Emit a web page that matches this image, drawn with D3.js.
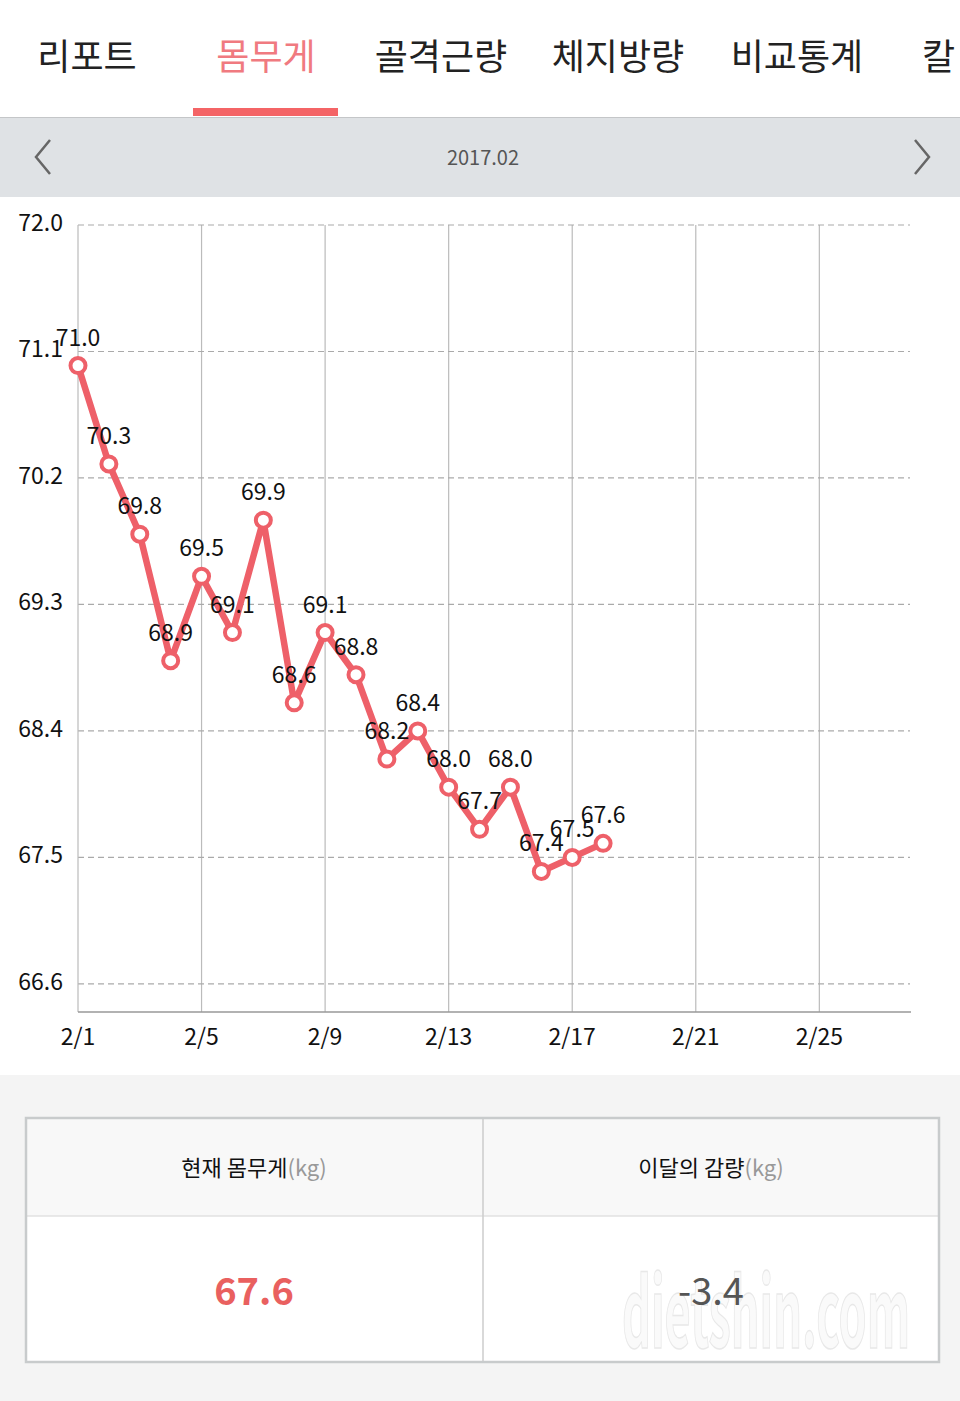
<!DOCTYPE html>
<html>
<head>
<meta charset="utf-8">
<script src="https://cdnjs.cloudflare.com/ajax/libs/d3/7.8.5/d3.min.js"></script>
<style>
  body { margin: 0; background: #fff; }
  svg { display: block; }
  text { font-family: "Noto Sans CJK KR", "Noto Sans", sans-serif; }
</style>
</head>
<body>
<svg id="page" width="960" height="1401"></svg>
<script>

var tabs = ['리포트', '몸무게', '골격근량', '체지방량', '비교통계', '칼로리'],
    activeTab = 1,
    month = '2017.02';

var days = [1, 2, 3, 4, 5, 6, 7, 8, 9, 10, 11, 12, 13, 14, 15, 16, 17, 18],
    weights = [71.0, 70.3, 69.8, 68.9, 69.5, 69.1, 69.9, 68.6, 69.1, 68.8,
               68.2, 68.4, 68.0, 67.7, 68.0, 67.4, 67.5, 67.6];

var yTicks = [66.6, 67.5, 68.4, 69.3, 70.2, 71.1, 72.0],
    xTicks = [1, 5, 9, 13, 17, 21, 25];

var summary = [
  { label: '현재 몸무게', value: '67.6' },
  { label: '이달의 감량', value: '-3.4' }
];

var pink = '#ee6069';
var svg = d3.select('#page');

// tab bar
var tabX = [87, 266, 441, 618, 797, 976];
svg.append('rect').attr('width', 960).attr('height', 117).attr('fill', '#fff');
svg.selectAll('.tab').data(tabs).enter().append('text')
  .attr('class', 'tab')
  .attr('x', function(d, i){ return tabX[i]; })
  .attr('y', 70)
  .attr('text-anchor', i => 'middle')
  .attr('font-size', 36)
  .attr('fill', function(d, i){ return i === activeTab ? '#f07a80' : '#222'; })
  .text(function(d, i){ return i === tabs.length - 1 ? d.slice(0, 1) : d; })
  .attr('text-anchor', function(d, i){ return i === tabs.length - 1 ? 'start' : 'middle'; })
  .attr('x', function(d, i){ return i === tabs.length - 1 ? 922 : tabX[i]; });
svg.append('rect').attr('x', 193).attr('y', 108).attr('width', 145).attr('height', 8).attr('fill', '#f46466');

// month bar
svg.append('rect').attr('y', 117).attr('width', 960).attr('height', 80).attr('fill', '#dfe2e5');
svg.append('line').attr('x1', 0).attr('x2', 960).attr('y1', 117.5).attr('y2', 117.5).attr('stroke', '#c4c6c8');
svg.append('text').attr('x', 483).attr('y', 165).attr('text-anchor', 'middle')
  .attr('font-size', 20).attr('fill', '#555').text(month);
svg.append('path').attr('d', 'M50,140 L36,157 L50,174').attr('fill', 'none').attr('stroke', '#666').attr('stroke-width', 2.5);
svg.append('path').attr('d', 'M915,140 L929,157 L915,174').attr('fill', 'none').attr('stroke', '#666').attr('stroke-width', 2.5);

// chart
var x = d3.scaleLinear().domain([1, 28]).range([78, 912]),
    y = d3.scaleLinear().domain([66.4, 72.0]).range([1012, 225]);

var chart = svg.append('g');

chart.selectAll('.vgrid').data(xTicks.slice(1)).enter().append('line')
  .attr('x1', function(d){ return x(d); }).attr('x2', function(d){ return x(d); })
  .attr('y1', y(72.0)).attr('y2', y(66.4))
  .attr('stroke', '#bbb').attr('stroke-width', 1.2);

chart.selectAll('.hgrid').data(yTicks).enter().append('line')
  .attr('x1', x(1)).attr('x2', 910)
  .attr('y1', function(d){ return y(d); }).attr('y2', function(d){ return y(d); })
  .attr('stroke', '#aaa').attr('stroke-width', 1.2).attr('stroke-dasharray', '6,4');

chart.append('line').attr('x1', x(1)).attr('x2', x(1)).attr('y1', y(72.0)).attr('y2', y(66.4))
  .attr('stroke', '#bbb').attr('stroke-width', 1.2);
chart.append('line').attr('x1', x(1)).attr('x2', 911).attr('y1', y(66.4)).attr('y2', y(66.4))
  .attr('stroke', '#999').attr('stroke-width', 1.5);

chart.selectAll('.ylab').data(yTicks).enter().append('text')
  .attr('x', 63).attr('y', function(d){ return y(d) + 6; })
  .attr('text-anchor', 'end').attr('font-size', 23).attr('fill', '#111')
  .text(function(d){ return d.toFixed(1); });

chart.selectAll('.xlab').data(xTicks).enter().append('text')
  .attr('x', function(d){ return x(d); }).attr('y', 1045)
  .attr('text-anchor', 'middle').attr('font-size', 23).attr('fill', '#111')
  .text(function(d){ return '2/' + d; });

var pts = days.map(function(d, i){ return { day: d, w: weights[i] }; });

chart.append('path').datum(pts)
  .attr('fill', 'none').attr('stroke', pink).attr('stroke-width', 6.5).attr('stroke-linejoin', 'round')
  .attr('d', d3.line().x(function(d){ return x(d.day); }).y(function(d){ return y(d.w); }));

chart.selectAll('.dot').data(pts).enter().append('circle')
  .attr('cx', function(d){ return x(d.day); }).attr('cy', function(d){ return y(d.w); })
  .attr('r', 7.5).attr('fill', '#fff').attr('stroke', pink).attr('stroke-width', 4);

chart.selectAll('.vlab').data(pts).enter().append('text')
  .attr('x', function(d){ return x(d.day); }).attr('y', function(d){ return y(d.w) - 20; })
  .attr('text-anchor', 'middle').attr('font-size', 23).attr('fill', '#111')
  .text(function(d){ return d.w.toFixed(1); });

// summary table
svg.append('rect').attr('y', 1075).attr('width', 960).attr('height', 326).attr('fill', '#f4f4f4');
svg.append('rect').attr('x', 26).attr('y', 1118).attr('width', 913).attr('height', 98).attr('fill', '#f8f8f8');
svg.append('rect').attr('x', 26).attr('y', 1216).attr('width', 913).attr('height', 146).attr('fill', '#fff');
svg.append('line').attr('x1', 26).attr('x2', 939).attr('y1', 1216).attr('y2', 1216).attr('stroke', '#e2e2e2').attr('stroke-width', 1.5);
svg.append('line').attr('x1', 483).attr('x2', 483).attr('y1', 1118).attr('y2', 1362).attr('stroke', '#ccc').attr('stroke-width', 1.5);

// watermark
svg.append('text').attr('x', 622).attr('y', 1348).attr('font-size', 96)
  .attr('font-family', 'Liberation Sans Narrow, DejaVu Sans Condensed, sans-serif')
  .attr('font-weight', 'bold').attr('textLength', 288).attr('lengthAdjust', 'spacingAndGlyphs')
  .attr('fill', '#fafafa').attr('stroke', '#e8e8e8').attr('stroke-width', 1.5)
  .text('dietshin.com');

svg.append('rect').attr('x', 26).attr('y', 1118).attr('width', 913).attr('height', 244)
  .attr('fill', 'none').attr('stroke', '#c8cbcc').attr('stroke-width', 2.5);

var cellX = [254, 711];
summary.forEach(function(s, i){
  var t = svg.append('text').attr('x', cellX[i]).attr('y', 1176).attr('text-anchor', 'middle').attr('font-size', 22);
  t.append('tspan').attr('fill', '#111').text(s.label);
  t.append('tspan').attr('fill', '#999').text('(kg)');
  svg.append('text').attr('x', cellX[i]).attr('y', 1305).attr('text-anchor', 'middle')
    .attr('font-size', 38).attr('font-weight', i === 0 ? 'bold' : 'normal')
    .attr('fill', i === 0 ? '#e9605f' : '#555').text(s.value);
});

</script>
</body>
</html>
